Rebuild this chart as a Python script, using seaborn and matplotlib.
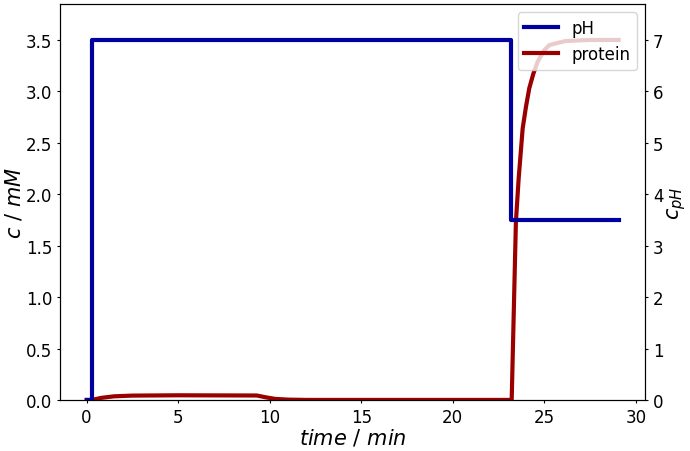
import numpy as np
import pandas as pd
import matplotlib
matplotlib.use("Agg")
import matplotlib.pyplot as plt
import seaborn as sns

# pH step profile (right axis)
ph_time = [0.0, 0.27, 0.27, 23.18, 23.18, 29.06]
ph_value = [0.0, 0.0, 7.0, 7.0, 3.5, 3.5]

# protein concentration (left axis, mM)
protein_time = [0.0, 0.3, 0.8, 1.5, 2.5, 5.0, 9.3, 9.8, 10.3, 11.0, 12.0,
                23.22, 23.3, 23.45, 23.6, 23.82, 24.0, 24.18, 24.4, 24.64,
                25.0, 25.27, 25.7, 26.18, 27.5, 29.06]
protein_value = [0.0, 0.0, 0.02, 0.035, 0.042, 0.045, 0.043, 0.025, 0.01, 0.003, 0.0,
                 0.0, 0.6, 1.73, 2.15, 2.64, 2.85, 3.03, 3.17, 3.29,
                 3.4, 3.45, 3.47, 3.49, 3.5, 3.5]

df_ph = pd.DataFrame({"time": ph_time, "value": ph_value})
df_prot = pd.DataFrame({"time": protein_time, "value": protein_value})

blue = "#0000a0"
red = "#9b0000"

fig, ax = plt.subplots(figsize=(6.9, 4.52), dpi=100)
fig.subplots_adjust(left=0.087, right=0.935, bottom=0.113, top=0.989)

sns.lineplot(data=df_prot, x="time", y="value", ax=ax, color=red, lw=3,
             estimator=None, sort=False, label="protein", legend=False)
ax2 = ax.twinx()
sns.lineplot(data=df_ph, x="time", y="value", ax=ax2, color=blue, lw=3,
             estimator=None, sort=False, label="pH", legend=False)

ax.set_ylim(0, 3.85)
ax2.set_ylim(0, 7.7)
ax.set_xlim(-1.45, 30.51)

ax.set_xlabel(r"$time\ /\ min$", fontsize=15, labelpad=1)
ax.set_ylabel(r"$c\ /\ mM$", fontsize=15, labelpad=1)
ax2.set_ylabel(r"$c_{pH}$", fontsize=15, labelpad=1)
ax.tick_params(labelsize=12, length=2.5, pad=3)
ax2.tick_params(labelsize=12, length=2.5, pad=3)

h1, l1 = ax.get_legend_handles_labels()
h2, l2 = ax2.get_legend_handles_labels()
ax2.legend(h2 + h1, l2 + l1, loc="upper right", fontsize=12)

fig.savefig("out.png", dpi=100)
